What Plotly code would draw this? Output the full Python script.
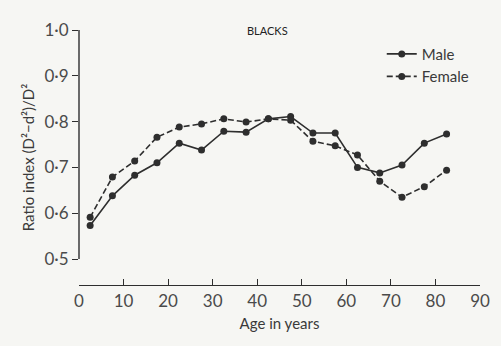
import plotly.graph_objects as go

ages = [2.5, 7.5, 12.5, 17.5, 22.5, 27.5, 32.5, 37.5, 42.5, 47.5, 52.5, 57.5, 62.5, 67.5, 72.5, 77.5, 82.5]
male = [0.573, 0.638, 0.683, 0.710, 0.753, 0.738, 0.779, 0.777, 0.806, 0.811, 0.775, 0.775, 0.700, 0.688, 0.705, 0.753, 0.773]
female = [0.591, 0.679, 0.714, 0.766, 0.788, 0.795, 0.806, 0.799, 0.806, 0.803, 0.757, 0.747, 0.727, 0.670, 0.635, 0.658, 0.694]

x_ticks = [0, 10, 20, 30, 40, 50, 60, 70, 80, 90]
y_ticks = [0.5, 0.6, 0.7, 0.8, 0.9, 1.0]
y_ticklabels = ["0·5", "0·6", "0·7", "0·8", "0·9", "1·0"]

ink = "#2e2e2e"
font = "Lato, 'Open Sans', sans-serif"

fig = go.Figure()
fig.add_trace(go.Scatter(x=ages, y=male, name="Male", mode="lines+markers",
                         line=dict(color=ink, width=1.6),
                         marker=dict(color=ink, size=7, symbol="circle")))
fig.add_trace(go.Scatter(x=ages, y=female, name="Female", mode="lines+markers",
                         line=dict(color=ink, width=1.6, dash="6px,3px"),
                         marker=dict(color=ink, size=7, symbol="circle")))

# detached y-axis line from 0.5 to 1.0
fig.add_shape(type="line", xref="paper", yref="y", x0=0, x1=0, y0=y_ticks[0], y1=y_ticks[-1],
              line=dict(color=ink, width=1.4))

fig.update_layout(
    width=501, height=346,
    margin=dict(l=79, r=11, t=30, b=61),
    paper_bgcolor="#f6f6f3", plot_bgcolor="#f6f6f3",
    showlegend=True,
    legend=dict(x=0.755, y=0.97, xanchor="left", yanchor="top", bgcolor="rgba(0,0,0,0)",
                font=dict(family=font, size=15, color="#3a3a3a"), itemwidth=30, tracegroupgap=0),
    xaxis=dict(range=[0, 90], tickvals=x_ticks, ticks="inside", ticklen=6, tickcolor=ink, tickwidth=1.2,
               showline=True, linecolor=ink, linewidth=1.4, showgrid=False, zeroline=False,
               tickfont=dict(family=font, size=17, color="#4a4a4a"),
               title=dict(text="Age in years", font=dict(family=font, size=15, color="#3a3a3a"), standoff=8)),
    yaxis=dict(range=[0.5 - 26 / 458, 1.0], tickvals=y_ticks, ticktext=y_ticklabels, ticks="outside",
               ticklen=6, tickcolor=ink, tickwidth=1.2, showline=False, showgrid=False, zeroline=False,
               tickfont=dict(family=font, size=17, color="#4a4a4a"),
               title=dict(text="Ratio index (D²−d²)/D²",
                          font=dict(family=font, size=15, color="#3a3a3a"), standoff=6)),
    annotations=[dict(text="BLACKS", xref="paper", yref="paper", x=0.47, y=1.0, xanchor="center",
                      yanchor="middle", showarrow=False, font=dict(family=font, size=11, color="#222"))],
)

fig.write_html("out.html")
